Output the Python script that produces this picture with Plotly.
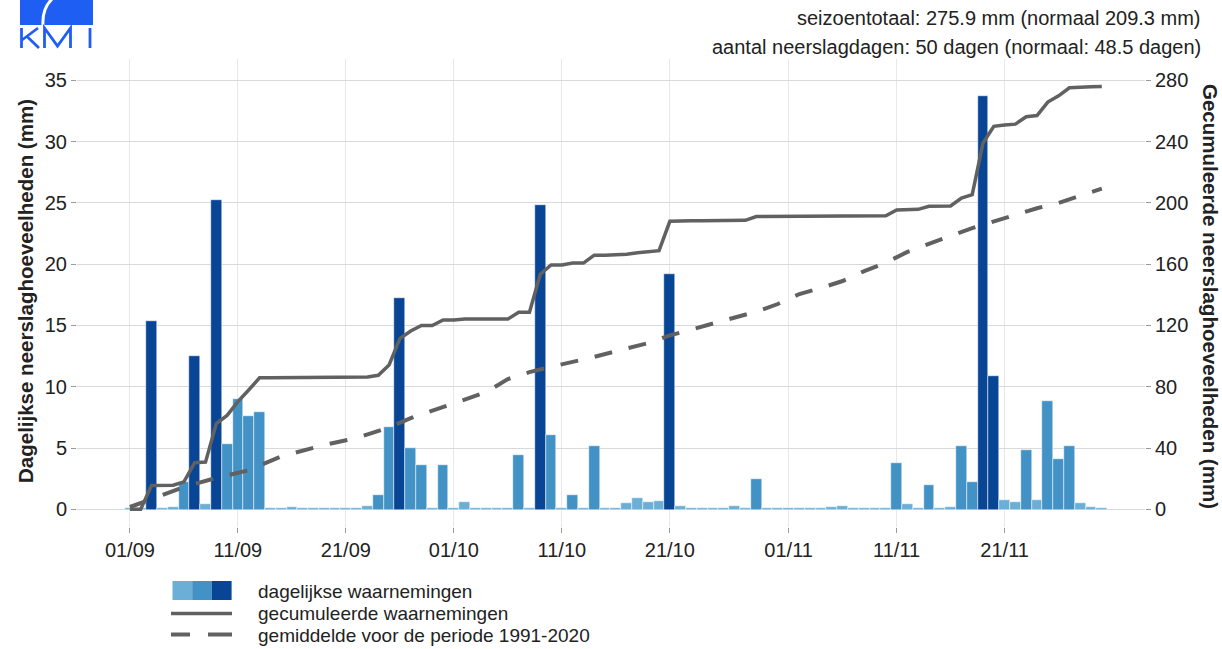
import numpy as np
import pandas as pd
import plotly.graph_objects as go

# ---------------- data ----------------
start_date = "2023-09-01"
daily_mm = [
    0.0, 0.1, 15.4, 0.0, 0.2, 2.2, 12.5, 0.4, 25.2, 5.3,
    9.0, 7.6, 7.9, 0.0, 0.0, 0.2, 0.0, 0.0, 0.0, 0.0,
    0.0, 0.0, 0.3, 1.2, 6.7, 17.2, 5.0, 3.6, 0.0, 3.6,
    0.0, 0.6, 0.0, 0.0, 0.0, 0.0, 4.4, 0.0, 24.8, 6.1,
    0.0, 1.2, 0.0, 5.2, 0.0, 0.1, 0.55, 0.95, 0.6, 0.7,
    19.2, 0.3, 0.0, 0.0, 0.0, 0.0, 0.3, 0.0, 2.5, 0.0,
    0.0, 0.0, 0.0, 0.0, 0.0, 0.2, 0.3, 0.0, 0.0, 0.0,
    0.0, 3.8, 0.4, 0.0, 2.0, 0.0, 0.2, 5.2, 2.2, 33.7,
    10.9, 0.8, 0.6, 4.8, 0.8, 8.8, 4.1, 5.2, 0.5, 0.2,
    0.1,
]
normal_day_offsets = [0, 3, 5, 8, 11, 14, 16, 18, 21, 24, 26, 29, 31, 33, 35, 37, 39,
                      41, 43, 46, 48, 50, 52, 54, 56, 58, 60, 62, 64, 66, 68, 70, 72,
                      74, 76, 78, 80, 82, 84, 86, 88, 90]
normal_cum_mm = [1.5, 9.0, 14.5, 20.5, 25.5, 34.5, 38.5, 42.0, 46.5, 53.5, 59.5, 66.5,
                 71.5, 76.5, 85.0, 89.5, 93.0, 96.0, 99.5, 105.0, 108.5, 113.5, 117.5,
                 121.0, 125.0, 129.0, 134.0, 140.5, 144.5, 149.0, 155.5, 161.0, 168.0,
                 173.6, 178.5, 183.5, 188.0, 192.0, 196.5, 200.0, 204.5, 209.3]
tick_dates = ["2023-09-01", "2023-09-11", "2023-09-21", "2023-10-01", "2023-10-11",
              "2023-10-21", "2023-11-01", "2023-11-11", "2023-11-21"]
tick_labels = ["01/09", "11/09", "21/09", "01/10", "11/10", "21/10", "01/11", "11/11", "21/11"]
left_ticks = [0, 5, 10, 15, 20, 25, 30, 35]
right_ticks = [0, 40, 80, 120, 160, 200, 240, 280]
season_total = 275.9
normal_total = 209.3
rain_days = 50
normal_rain_days = 48.5

# ---------------- styling ----------------
W, H = 1222, 649
PL, PR, PT, PB = 77, 1145, 59, 527
C_LIGHT, C_MED, C_DARK = "#6baed6", "#4292c6", "#084594"
LINE_C = "#616161"
FONT = "Liberation Sans, Arial, sans-serif"
TXT = "#222222"


def px(x):
    return (x - PL) / (PR - PL)


def py(y):
    return (PB - y) / (PB - PT)


start = pd.Timestamp(start_date)
dates = pd.date_range(start, periods=len(daily_mm), freq="D")
vals = np.array(daily_mm, dtype=float)
cum = np.cumsum(vals)
colors = [C_LIGHT if v < 1 else (C_MED if v < 10 else C_DARK) for v in vals]
pad = 0.09
tops = np.maximum(vals, pad)
normal_dates = [start + pd.Timedelta(days=d) for d in normal_day_offsets]

fig = go.Figure()
fig.add_trace(go.Bar(
    x=dates, y=tops + pad, base=-pad, width=86400000,
    marker=dict(color=colors, line=dict(color="white", width=0.5)),
    hoverinfo="skip", showlegend=False, yaxis="y",
))
fig.add_trace(go.Scatter(
    x=dates, y=cum, mode="lines", yaxis="y2",
    line=dict(color=LINE_C, width=3.5), hoverinfo="skip", showlegend=False,
))
fig.add_trace(go.Scatter(
    x=normal_dates, y=normal_cum_mm, mode="lines", yaxis="y2",
    line=dict(color=LINE_C, width=4, dash="18px,17px"), hoverinfo="skip", showlegend=False,
))

y_lo, y_hi = -1.444, 36.74
x_lo = start + pd.Timedelta(days=-4.9)
x_hi = start + pd.Timedelta(days=94.0)

fig.update_layout(
    width=W, height=H,
    margin=dict(l=PL, r=W - PR, t=PT, b=H - PB, pad=0),
    paper_bgcolor="white", plot_bgcolor="white",
    bargap=0,
    font=dict(family=FONT, size=20, color=TXT),
    xaxis=dict(
        type="date", range=[x_lo, x_hi], tickmode="array",
        tickvals=tick_dates, ticktext=tick_labels,
        showgrid=True, gridcolor="#e8e8e8", gridwidth=1,
        ticks="outside", ticklen=5, tickcolor="#9a9a9a",
        showline=False, zeroline=False,
        tickfont=dict(size=20, color=TXT),
    ),
    yaxis=dict(
        range=[y_lo, y_hi], tickmode="array", tickvals=left_ticks,
        showgrid=True, gridcolor="#d9d9d9", gridwidth=1,
        ticks="outside", ticklen=5, tickcolor="#9a9a9a",
        zeroline=False, showline=False,
        tickfont=dict(size=20, color=TXT),
    ),
    yaxis2=dict(
        range=[y_lo * 8, y_hi * 8], tickmode="array", tickvals=right_ticks,
        overlaying="y", side="right", showgrid=False,
        ticks="outside", ticklen=5, tickcolor="#9a9a9a",
        zeroline=False, showline=False,
        tickfont=dict(size=20, color=TXT),
    ),
)

shapes = []
annotations = []

# axis titles
annotations.append(dict(
    text="<b>Dagelijkse neerslaghoeveelheden (mm)</b>", xref="paper", yref="paper",
    x=px(25), y=py(291), textangle=-90, showarrow=False,
    font=dict(size=20.5, color=TXT), xanchor="center", yanchor="middle"))
annotations.append(dict(
    text="<b>Gecumuleerde neerslaghoeveelheden (mm)</b>", xref="paper", yref="paper",
    x=px(1211), y=py(296), textangle=90, showarrow=False,
    font=dict(size=20.5, color=TXT), xanchor="center", yanchor="middle"))

# top-right info
annotations.append(dict(
    text=f"seizoentotaal: {season_total} mm (normaal {normal_total} mm)",
    xref="paper", yref="paper", x=px(1203), y=py(18), xanchor="right", yanchor="middle",
    showarrow=False, font=dict(size=20, color=TXT)))
annotations.append(dict(
    text=f"aantal neerslagdagen: {rain_days} dagen (normaal: {normal_rain_days} dagen)",
    xref="paper", yref="paper", x=px(1203), y=py(47), xanchor="right", yanchor="middle",
    showarrow=False, font=dict(size=20, color=TXT)))

# KMI logo (drawn with shapes)
LOGO = "#1f5ef2"
shapes.append(dict(type="rect", xref="paper", yref="paper",
                   x0=px(20), x1=px(93), y0=py(25), y1=py(-2),
                   fillcolor=LOGO, line=dict(width=0), layer="above"))
shapes.append(dict(type="path", xref="paper", yref="paper",
                   path=f"M {px(52)},{py(-1)} Q {px(42)},{py(9)} {px(43)},{py(25)}",
                   line=dict(color="white", width=3), layer="above"))
logo_paths = [
    [(21.5, 28), (21.5, 48)],                       # K stem
    [(38, 28), (22, 40)],                           # K upper arm
    [(27, 36.5), (39, 48)],                         # K leg
    [(44.5, 48), (44.5, 28), (57.5, 46), (70.5, 28), (70.5, 48)],  # M
    [(90, 28), (90, 48)],                           # I
]
for pts in logo_paths:
    d = "M " + " L ".join(f"{px(a)},{py(b)}" for a, b in pts)
    shapes.append(dict(type="path", xref="paper", yref="paper", path=d,
                       line=dict(color=LOGO, width=2.8), layer="above"))

# custom legend
for i, c in enumerate((C_LIGHT, C_MED, C_DARK)):
    x0 = 172.5 + i * 19.7
    shapes.append(dict(type="rect", xref="paper", yref="paper",
                       x0=px(x0), x1=px(x0 + 19.7), y0=py(600), y1=py(581),
                       fillcolor=c, line=dict(width=0)))
shapes.append(dict(type="line", xref="paper", yref="paper",
                   x0=px(171), x1=px(232), y0=py(613.5), y1=py(613.5),
                   line=dict(color=LINE_C, width=3.5)))
for a, b in ((171, 190), (208, 232)):
    shapes.append(dict(type="line", xref="paper", yref="paper",
                       x0=px(a), x1=px(b), y0=py(634.5), y1=py(634.5),
                       line=dict(color=LINE_C, width=4)))
for txt, yy in (("dagelijkse waarnemingen", 591),
                ("gecumuleerde waarnemingen", 613),
                ("gemiddelde voor de periode 1991-2020", 635)):
    annotations.append(dict(text=txt, xref="paper", yref="paper", x=px(256), y=py(yy),
                            xanchor="left", yanchor="middle", showarrow=False,
                            font=dict(size=19, color=TXT)))

fig.update_layout(shapes=shapes, annotations=annotations)
fig.write_html("out.html", config={"displayModeBar": False},
               post_script="document.body.style.margin='0px';")
